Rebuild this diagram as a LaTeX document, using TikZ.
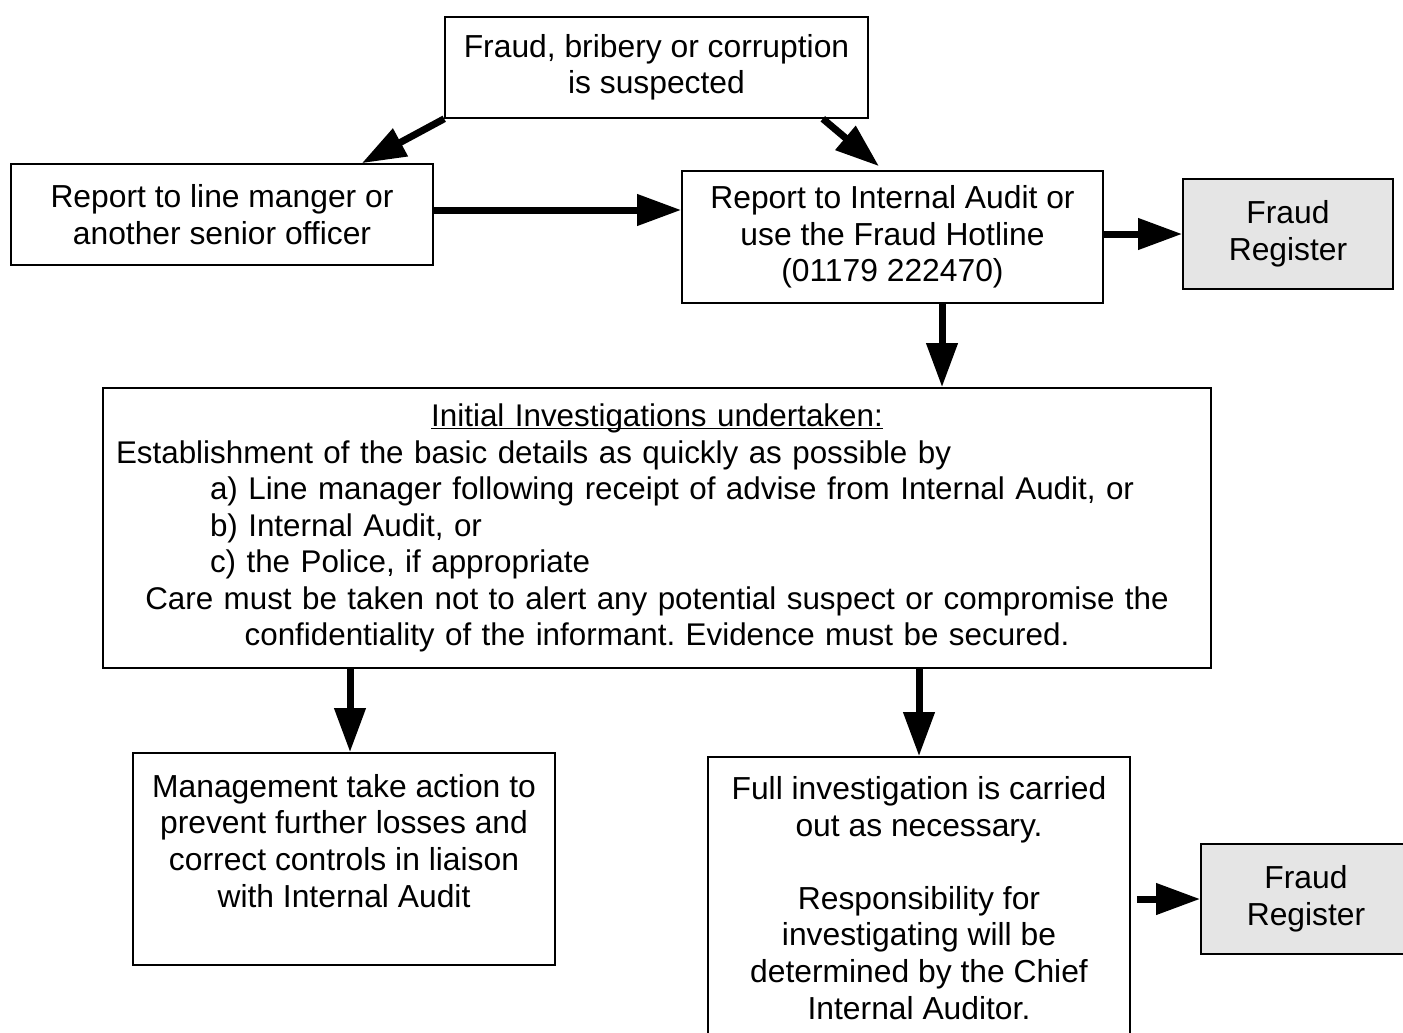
\documentclass[tikz,border=0pt]{standalone}
\usepackage{fontspec}
\setmainfont{Liberation Sans}
\usetikzlibrary{arrows.meta}
\newcommand{\underl}[1]{\setbox0\hbox{#1}\rlap{\rule[-0.06cm]{\wd0}{0.03cm}}\box0}
\newcommand{\lline}[1]{\makebox[21.64cm][l]{#1}}
\begin{document}
\frenchspacing
\begin{tikzpicture}[font=\fontsize{18.1}{20.8}\selectfont,
  box/.style={draw, line width=0.9pt, rectangle, align=center, inner sep=0pt},
  regbox/.style={box, fill=gray!20, minimum width=4.2cm, minimum height=2.2cm},
  arr/.style={line width=0.14cm, -{Triangle[length=0.88cm, width=0.6cm]}}]
  \useasboundingbox (0,0) rectangle (28.06,-20.64);
  % ust kisim
  \node[box, minimum width=8.46cm, minimum height=2.02cm] (susp) at (13.13,-1.35)
    {Fraud, bribery or corruption\\ is suspected};
  \node[box, minimum width=8.44cm, minimum height=2.02cm] (linemgr) at (4.44,-4.29)
    {Report to line manger or\\ another senior officer};
  \node[box, minimum width=8.42cm, minimum height=2.64cm] (audit) at (17.85,-4.74)
    {Report to Internal Audit or\\ use the Fraud Hotline\\ (01179 222470)};
  \node[regbox] (reg1) at (25.76,-4.68) {Fraud\\ Register};
  % ilk inceleme
  \node[box, font=\fontsize{17.85}{20.8}\selectfont, text width=21.64cm, inner xsep=0.26cm,
        minimum height=5.6cm] (init) at (13.14,-10.56)
    {\underl{Initial Investigations undertaken:}\\
     \lline{Establishment of the basic details as quickly as possible by}\\
     \lline{\hspace*{1.88cm}a) Line manager following receipt of advise from Internal Audit, or}\\
     \lline{\hspace*{1.88cm}b) Internal Audit, or}\\
     \lline{\hspace*{1.88cm}c) the Police, if appropriate}\\
     Care must be taken not to alert any potential suspect or compromise the\\
     confidentiality of the informant. Evidence must be secured.};
  % alt kisim
  \node[box, minimum width=8.44cm, minimum height=4.24cm] (mgmt) at (6.88,-17.18)
    {Management take action to\\ prevent further losses and\\ correct controls in liaison\\ with Internal Audit\\ \mbox{}};
  \node[box, minimum width=8.44cm, minimum height=5.64cm] (full) at (18.38,-17.96)
    {Full investigation is carried\\ out as necessary.\\[20.8pt]
     Responsibility for\\ investigating will be\\ determined by the Chief\\ Internal Auditor.};
  \node[regbox] (reg2) at (26.12,-17.98) {Fraud\\ Register};
  % oklar
  \draw[arr] (susp.south west) -- ([xshift=-1.44cm]linemgr.north east);
  \draw[arr] ([xshift=-0.92cm]susp.south east) -- ([xshift=-0.27cm, yshift=0.08cm]audit.north);
  \draw[arr] ([yshift=0.09cm]linemgr.east) -- ([yshift=0.09cm]linemgr.east -| audit.west);
  \draw[arr] (reg1.west -| audit.east) -- (reg1.west);
  \draw[arr] ([xshift=0.99cm]audit.south) -- ([xshift=0.99cm]audit.south |- init.north);
  \draw[arr] ([xshift=0.12cm]mgmt.north |- init.south) -- ([xshift=0.12cm]mgmt.north);
  \draw[arr] (full.north |- init.south) -- (full.north);
  \draw[arr] ([xshift=0.12cm]full.east |- reg2.west) -- (reg2.west);
\end{tikzpicture}
\end{document}
